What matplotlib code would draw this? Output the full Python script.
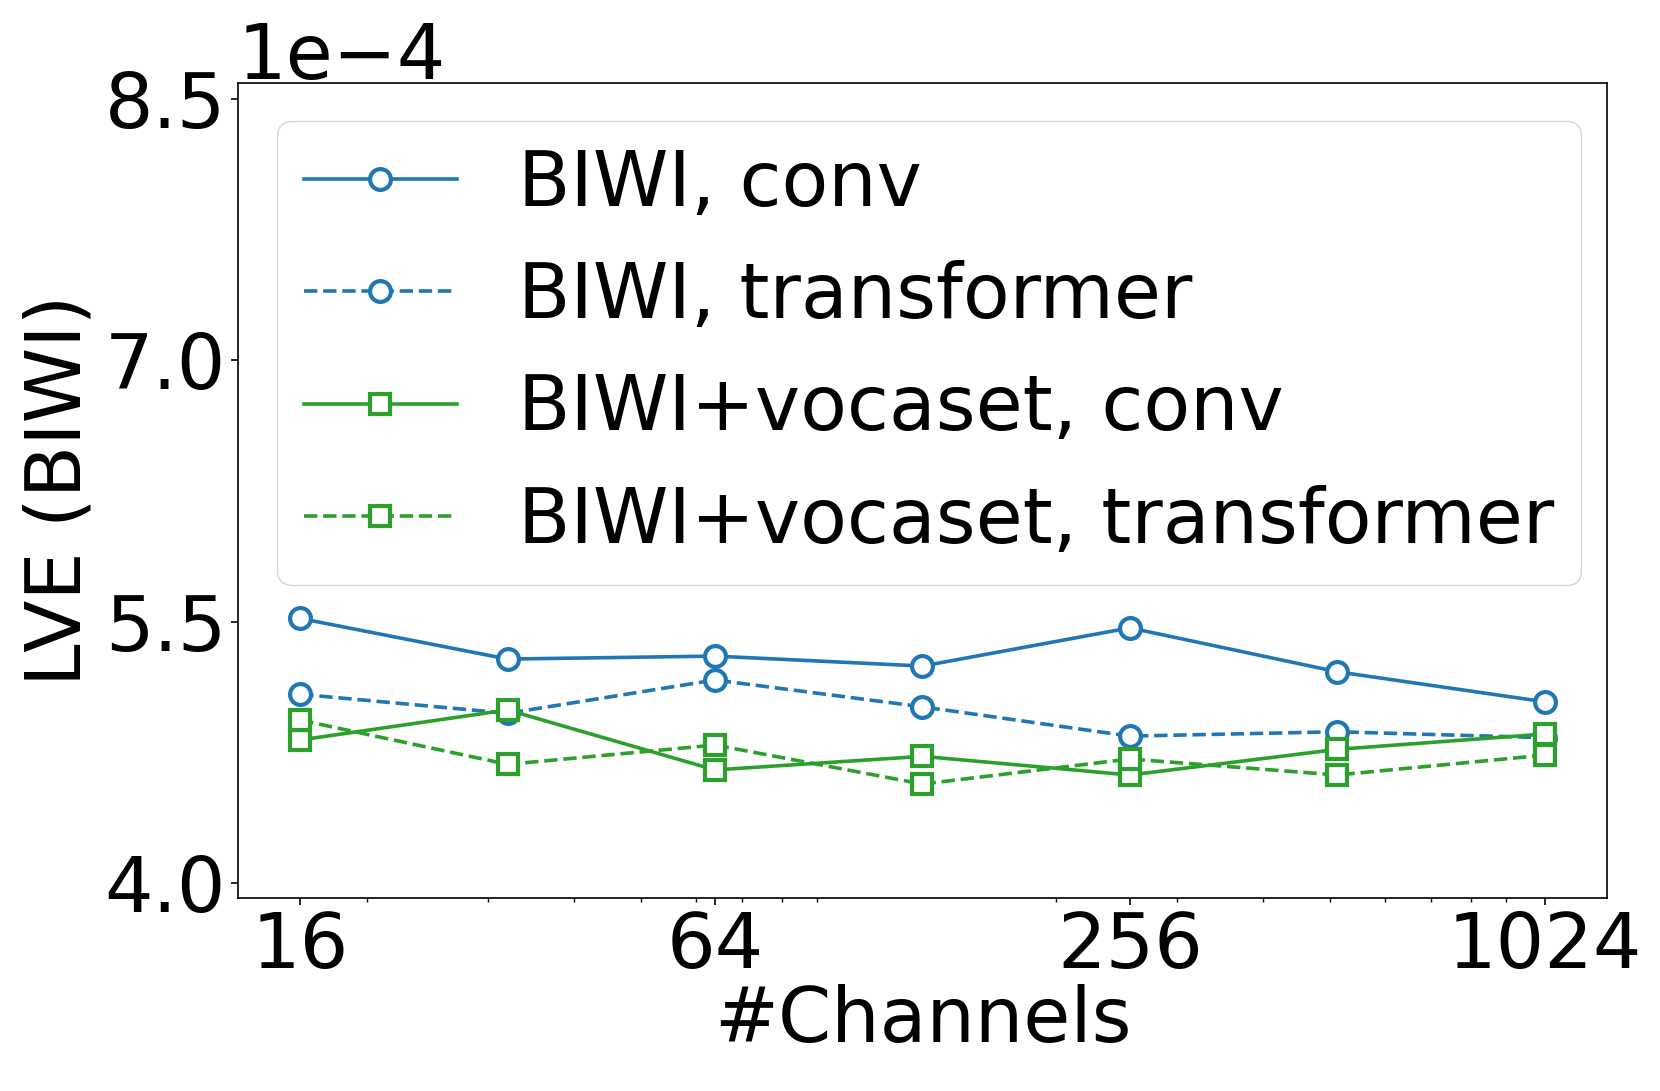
import matplotlib
matplotlib.use("Agg")
import matplotlib.pyplot as plt
from matplotlib.ticker import ScalarFormatter, FixedLocator, NullFormatter, LogLocator

channels = [16, 32, 64, 128, 256, 512, 1024]
xtick_vals = [16, 64, 256, 1024]
ytick_vals = [4.0e-4, 5.5e-4, 7.0e-4, 8.5e-4]

biwi_conv = [5.518, 5.285, 5.302, 5.245, 5.464, 5.212, 5.040]
biwi_transformer = [5.083, 4.974, 5.165, 5.011, 4.843, 4.868, 4.834]
biwivoc_conv = [4.821, 4.993, 4.649, 4.727, 4.620, 4.767, 4.855]
biwivoc_transformer = [4.935, 4.681, 4.792, 4.568, 4.712, 4.620, 4.734]

labels = ["BIWI, conv", "BIWI, transformer", "BIWI+vocaset, conv", "BIWI+vocaset, transformer"]

scale = 1e-4
blue = "#1f77b4"
green = "#2ca02c"
FS = 55


class OneDecimal(ScalarFormatter):
    def _set_format(self):
        self.format = "%1.1f"


fig = plt.figure(figsize=(16.6, 10.91), dpi=100)
ax = fig.add_axes([0.1434, 0.177, 0.968 - 0.1434, 0.924 - 0.177])

series = [
    (biwi_conv, blue, "-", "o"),
    (biwi_transformer, blue, "--", "o"),
    (biwivoc_conv, green, "-", "s"),
    (biwivoc_transformer, green, "--", "s"),
]
for (vals, c, ls, m), lab in zip(series, labels):
    ax.plot(channels, [v * scale for v in vals], color=c, linestyle=ls, marker=m,
            markerfacecolor="white", markeredgecolor=c, markersize=15,
            markeredgewidth=3.0, linewidth=2.6, label=lab)

ax.set_xscale("log")
ax.xaxis.set_major_locator(FixedLocator(xtick_vals))
ax.xaxis.set_major_formatter(ScalarFormatter())
ax.xaxis.set_minor_locator(LogLocator(base=10, subs=range(2, 10)))
ax.xaxis.set_minor_formatter(NullFormatter())

ax.set_ylim(3.915e-4, 8.59e-4)
ax.set_yticks(ytick_vals)
fmt = OneDecimal(useMathText=False)
fmt.set_powerlimits((0, 0))
ax.yaxis.set_major_formatter(fmt)
ax.yaxis.get_offset_text().set_fontsize(FS)

ax.tick_params(axis="both", which="major", labelsize=FS, length=5, width=1.2)
ax.tick_params(axis="x", which="minor", length=3, width=1.0)
for s in ax.spines.values():
    s.set_linewidth(1.2)

ax.set_xlabel("#Channels", fontsize=FS, labelpad=0)
ax.set_ylabel("LVE (BIWI)", fontsize=FS, labelpad=6)

ax.legend(loc="upper right", bbox_to_anchor=(0.981, 0.953), borderaxespad=0,
          fontsize=FS, handlelength=2.0, borderpad=0.35, labelspacing=0.5,
          handletextpad=0.8, framealpha=0.8)

fig.savefig("out.png", dpi=100)
